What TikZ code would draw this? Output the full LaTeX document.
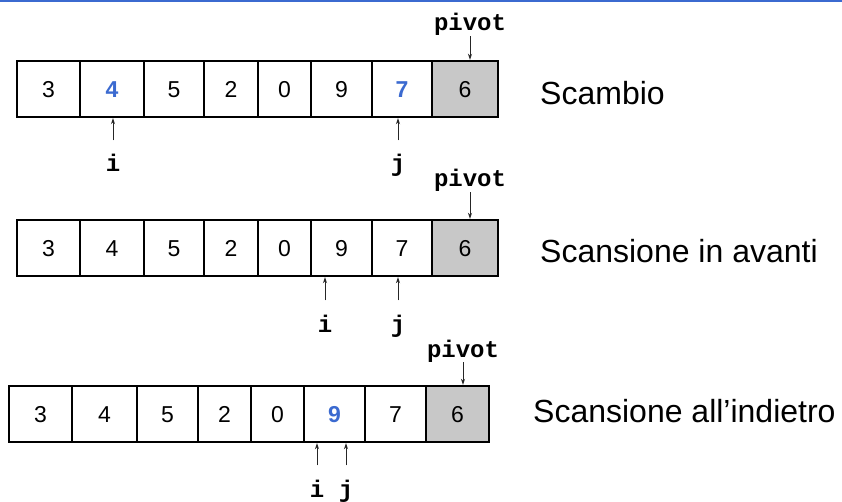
\documentclass[tikz,border=0pt]{standalone}
\usepackage{fontspec}
\setmainfont{Liberation Sans}
\setmonofont{Liberation Mono}
\usetikzlibrary{arrows.meta,positioning,calc}
\definecolor{hiblue}{RGB}{59,106,208}
\definecolor{pivgray}{RGB}{200,200,200}
\tikzset{
    cell/.style ={draw, line width=2.4pt, minimum height=56pt, inner sep=0pt, text height=16.5pt, text depth=0pt, font=\fontsize{23}{26}\selectfont},
    hot/.style ={text=hiblue, font=\fontsize{23}{26}\selectfont\bfseries},
    piv/.style ={fill=pivgray},
    plain/.style ={},
    tag/.style ={inner sep=0pt, anchor=base, font=\fontsize{24}{27}\selectfont\ttfamily\bfseries},
    caption/.style ={inner sep=0pt, anchor=base west, font=\fontsize{32}{36}\selectfont},
    ptr/.style ={-{Stealth[length=6pt,width=4pt]}, line width=0.9pt, draw=black!85}
}

\begin{document}
\begin{tikzpicture}[x=1pt, y=-1pt]
\useasboundingbox (0,0) rectangle (842,502);
\fill[hiblue] (0,0) rectangle (842,2);

% Scambio
\foreach \v/\st/\xa/\xb [count=\k] in {3/plain/17/80, 4/hot/80/144, 5/plain/144/204, 2/plain/204/258, 0/plain/258/311, 9/plain/311/372, 7/hot/372/432, 6/piv/432/498}
  \node[cell, \st, minimum width={(\xb-\xa)*1pt}] (a\k) at ({(\xa+\xb)/2}, 89) {\v};
\node[tag] (p1) at (470,31) {pivot};
\node[tag] (i1) at (113,172) {i};
\node[tag] (j1) at (398,172) {j};
\draw[ptr] (p1.south) -- (p1.south |- a8.north);
\draw[ptr, shorten <=14pt] (i1.north) -- (i1.north |- a2.south);
\draw[ptr, shorten <=14pt] (j1.north) -- (j1.north |- a7.south);
\node[caption] (s1) at (540,105) {Scambio};

% Scansione in avanti
\foreach \v/\st/\xa/\xb [count=\k] in {3/plain/17/80, 4/plain/80/144, 5/plain/144/204, 2/plain/204/258, 0/plain/258/311, 9/plain/311/372, 7/plain/372/432, 6/piv/432/498}
  \node[cell, \st, minimum width={(\xb-\xa)*1pt}] (b\k) at ({(\xa+\xb)/2}, 248) {\v};
\node[tag] (p2) at (470,187) {pivot};
\node[tag] (i2) at (325,332) {i};
\node[tag] (j2) at (398,332) {j};
\draw[ptr] (p2.south) -- (p2.south |- b8.north);
\draw[ptr, shorten <=14pt] (i2.north) -- (i2.north |- b6.south);
\draw[ptr, shorten <=14pt] (j2.north) -- (j2.north |- b7.south);
\node[caption] (s2) at (540,262) {Scansione in avanti};

% Scansione all'indietro
\foreach \v/\st/\xa/\xb [count=\k] in {3/plain/9/72, 4/plain/72/137, 5/plain/137/198, 2/plain/198/251, 0/plain/251/304, 9/hot/304/365, 7/plain/365/426, 6/piv/426/489}
  \node[cell, \st, minimum width={(\xb-\xa)*1pt}] (c\k) at ({(\xa+\xb)/2}, 414) {\v};
\node[tag] (p3) at (463,357) {pivot};
\node[tag] (i3) at (317,497) {i};
\node[tag] (j3) at (346,497) {j};
\draw[ptr] (p3.south) -- (p3.south |- c8.north);
\draw[ptr, shorten <=14pt] (i3.north) -- (i3.north |- c6.south);
\draw[ptr, shorten <=14pt] (j3.north) -- (j3.north |- c6.south);
\node[caption] (s3) at (533,422) {Scansione all’indietro};
\end{tikzpicture}
\end{document}
